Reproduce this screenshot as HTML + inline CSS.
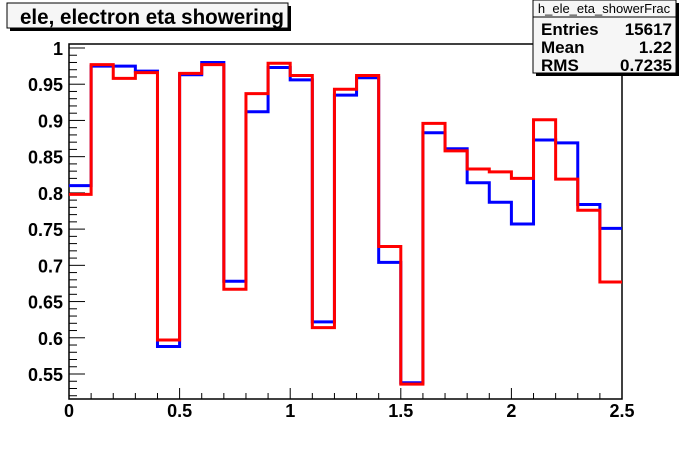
<!DOCTYPE html>
<html><head><meta charset="utf-8"><style>
body{margin:0;background:#fff;width:692px;height:444px;overflow:hidden;font-family:"Liberation Sans",sans-serif}
</style></head><body>
<svg width="692" height="444" xmlns="http://www.w3.org/2000/svg" id="svg">
<rect x="0" y="0" width="692" height="444" fill="#fff"/>
<g>
<rect x="10" y="6" width="281" height="25" fill="#000"/>
<rect x="7" y="3" width="281" height="25" fill="#f6f6f6" stroke="#000" stroke-width="1"/>
<text x="20" y="24" font-size="21" font-weight="bold" fill="#000" textLength="264" lengthAdjust="spacingAndGlyphs">ele, electron eta showering</text>
</g>
<rect x="69" y="44" width="553" height="355" fill="#fff" stroke="#000" stroke-width="1.5"/>
<g id="axes"></g>
<path id="blue" fill="none" stroke="#0000ff" stroke-width="3"/>
<path id="red" fill="none" stroke="#ff0000" stroke-width="3"/>
<g>
<rect x="536" y="3" width="143" height="73" fill="#000"/>
<rect x="533" y="0" width="143" height="73" fill="#f6f6f6" stroke="#000" stroke-width="1"/>
<line x1="533" y1="17" x2="676" y2="17" stroke="#000"/>
<text x="604" y="13" font-size="13" text-anchor="middle">h_ele_eta_showerFrac</text>
<text x="541" y="35" font-size="17" font-weight="bold">Entries</text><text x="672" y="35" font-size="17" font-weight="bold" text-anchor="end">15617</text>
<text x="541" y="53" font-size="17" font-weight="bold">Mean</text><text x="672" y="53" font-size="17" font-weight="bold" text-anchor="end">1.22</text>
<text x="541" y="71" font-size="17" font-weight="bold">RMS</text><text x="672" y="71" font-size="17" font-weight="bold" text-anchor="end">0.7235</text>
</g>
</svg>
<script>
const binEdgesStart=0, binWidth=0.1;
const blueVals=[0.81,0.975,0.975,0.968,0.588,0.963,0.98,0.678,0.912,0.973,0.956,0.622,0.935,0.959,0.704,0.538,0.883,0.861,0.814,0.787,0.757,0.873,0.869,0.784,0.751];
const redVals=[0.798,0.977,0.958,0.966,0.597,0.965,0.977,0.667,0.937,0.979,0.962,0.614,0.943,0.962,0.726,0.536,0.896,0.858,0.833,0.829,0.82,0.901,0.819,0.776,0.677];
const xTicks=[0,0.5,1,1.5,2,2.5];
const yTicks=[0.55,0.6,0.65,0.7,0.75,0.8,0.85,0.9,0.95,1];
const X0=69,X1=622,Y0=399,Y1=44,xmin=0,xmax=2.5,ymin=0.5155,ymax=1.0055;
const sx=v=>X0+(v-xmin)/(xmax-xmin)*(X1-X0);
const sy=v=>Y0-(v-ymin)/(ymax-ymin)*(Y0-Y1);
function hist(vals){let d='';vals.forEach((v,i)=>{const a=sx(binEdgesStart+i*binWidth),b=sx(binEdgesStart+(i+1)*binWidth),y=sy(v);d+=(i?'L':'M')+a+','+y+'L'+b+','+y;});return d;}
document.getElementById('blue').setAttribute('d',hist(blueVals));
document.getElementById('red').setAttribute('d',hist(redVals));
const ns='http://www.w3.org/2000/svg',g=document.getElementById('axes');
function mk(t,attrs){const e=document.createElementNS(ns,t);for(const k in attrs)e.setAttribute(k,attrs[k]);g.appendChild(e);return e;}
for(let v=0;v<=2.5001;v+=0.1){const x=sx(v);const major=Math.abs(v*2-Math.round(v*2))<1e-6;const l=mk('line',{x1:x,x2:x,y1:Y0,y2:Y0-(major?11:6),stroke:'#000'});

}
xTicks.forEach(v=>{const t=mk('text',{x:sx(v),y:417,'font-size':18,'font-weight':'bold','text-anchor':'middle'});t.textContent=String(v);

});
for(let v=0.52;v<=1.0001;v+=0.01){const y=sy(v);const major=Math.abs(v*20-Math.round(v*20))<1e-6;const l=mk('line',{x1:X0,x2:X0+(major?16:8),y1:y,y2:y,stroke:'#000'});

}
yTicks.forEach(v=>{const t=mk('text',{x:63,y:sy(v)+7,'font-size':18,'font-weight':'bold','text-anchor':'end'});t.textContent=String(v);

});
</script>
</body></html>
